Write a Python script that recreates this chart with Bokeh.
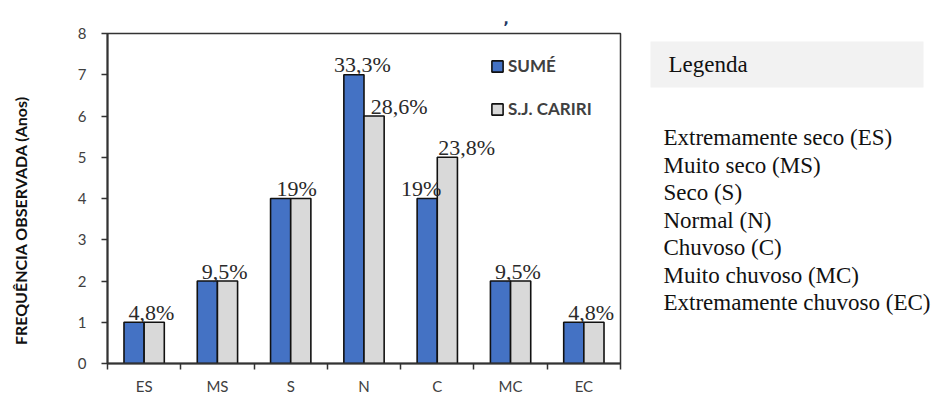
import math
import numpy as np
from bokeh.plotting import figure
from bokeh.layouts import row
from bokeh.models import (ColumnDataSource, Range1d, FixedTicker, Legend, LegendItem)
from bokeh.core.properties import value
from bokeh.embed import file_html
from bokeh.resources import INLINE

# ---- data ----
categories = ["ES", "MS", "S", "N", "C", "MC", "EC"]
sume = [1, 2, 4, 7, 4, 2, 1]
sj_cariri = [1, 2, 4, 6, 5, 2, 1]
series_names = ["SUMÉ", "S.J. CARIRI"]

label_texts = ["4,8%", "9,5%", "19%", "33,3%", "28,6%", "19%", "23,8%", "9,5%", "4,8%"]
label_cat = ["ES", "MS", "S", "N", "N", "C", "C", "MC", "EC"]
label_val = [1, 2, 4, 7, 6, 4, 5, 2, 1]
label_shift = [0.1, 0.1, 0.08, -0.02, 0.48, -0.22, 0.40, 0.1, 0.1]

legend_title = "Legenda"
legend_lines = ["Extremamente seco (ES)", "Muito seco (MS)", "Seco (S)", "Normal (N)",
                "Chuvoso (C)", "Muito chuvoso (MC)", "Extremamente chuvoso (EC)"]

y_ticks = [0, 1, 2, 3, 4, 5, 6, 7, 8]
y_title = "FREQUÊNCIA OBSERVADA (Anos)"

H = 397
FRAME_TOP, FRAME_BOTTOM = 33, 363   # canvas pixels shared by all panels in the row

# ---- left panel: rotated y-axis title ----
t = figure(width=35, height=H, output_backend="svg", toolbar_location=None,
           x_range=Range1d(0, 35), y_range=Range1d(H - FRAME_BOTTOM, H - FRAME_TOP),
           x_axis_location=None, y_axis_location=None,
           min_border_left=0, min_border_right=0,
           min_border_top=FRAME_TOP, min_border_bottom=H - FRAME_BOTTOM)
t.grid.visible = False
t.outline_line_color = None
t.text(x=[20], y=[H - 220], text=[y_title], angle=math.pi / 2,
       text_align="center", text_baseline="middle",
       text_font=value("Lato"), text_font_style="bold", text_font_size="16px",
       text_color="#111111")

# ---- main chart ----
BLUE = "#4472C4"
GREY = "#D9D9D9"
bar_w = 0.275
label_pad = 0.24  # gap between bar top and label baseline, in y units

centers = np.arange(len(categories)) + 0.5
src = ColumnDataSource(dict(
    xb=centers - bar_w / 2, xg=centers + bar_w / 2, sume=sume, sj=sj_cariri))

p = figure(width=605, height=H, output_backend="svg", toolbar_location=None,
           x_range=Range1d(0, len(categories)), y_range=Range1d(0, 8),
           min_border_left=72, min_border_right=20,
           min_border_top=FRAME_TOP, min_border_bottom=H - FRAME_BOTTOM)

r1 = p.vbar(x="xb", top="sume", width=bar_w, source=src, fill_color=BLUE,
            line_color="#111111", line_width=1.6)
r2 = p.vbar(x="xg", top="sj", width=bar_w, source=src, fill_color=GREY,
            line_color="#111111", line_width=1.6)

cat_index = {c: i for i, c in enumerate(categories)}
lsrc = ColumnDataSource(dict(
    x=[cat_index[c] + 0.5 + s for c, s in zip(label_cat, label_shift)],
    y=[v + label_pad for v in label_val], t=label_texts))
p.text(x="x", y="y", text="t", source=lsrc, text_align="center", text_baseline="alphabetic",
       text_font=value("Liberation Serif"), text_font_size="22px",
       text_color="#2a2a2a")

p.xgrid.visible = False
p.ygrid.visible = False
p.outline_line_color = "#333333"
p.outline_line_width = 1.5

# small mark above the chart (remnant of a cut-off title)
p.title.text = ","
p.title.align = "left"
p.title.offset = 396
p.title.vertical_align = "top"
p.title.standoff = 15
p.title.text_font = "DejaVu Sans"
p.title.text_font_style = "bold"
p.title.text_font_size = "14px"
p.title.text_color = "#1f3864"

xa = p.xaxis[0]
xa.ticker = FixedTicker(ticks=list(centers), minor_ticks=list(range(len(categories) + 1)))
xa.major_label_overrides = {float(c): cat for c, cat in zip(centers, categories)}
xa.major_tick_line_color = None
xa.minor_tick_in = 0
xa.minor_tick_out = 6
xa.minor_tick_line_color = "#333333"
xa.minor_tick_line_width = 1.5
xa.axis_line_color = "#333333"
xa.axis_line_width = 2
xa.major_label_text_font = "Lato"
xa.major_label_text_font_size = "15px"
xa.major_label_text_color = "#404040"
xa.major_label_standoff = 7

ya = p.yaxis[0]
ya.ticker = FixedTicker(ticks=y_ticks)
ya.minor_tick_line_color = None
ya.major_tick_in = 0
ya.major_tick_out = 6
ya.major_tick_line_color = "#333333"
ya.major_tick_line_width = 1.5
ya.axis_line_color = "#333333"
ya.axis_line_width = 2
ya.major_label_text_font = "Lato"
ya.major_label_text_font_size = "15px"
ya.major_label_text_color = "#404040"
ya.major_label_standoff = 15

legend = Legend(items=[LegendItem(label=series_names[0], renderers=[r1]),
                       LegendItem(label=series_names[1], renderers=[r2])],
                location=(383, 244), orientation="vertical")
legend.spacing = 22
legend.glyph_width = 14
legend.glyph_height = 14
legend.label_height = 20
legend.padding = 0
legend.margin = 0
legend.border_line_color = None
legend.background_fill_alpha = 0
legend.label_text_font = "Lato"
legend.label_text_font_style = "bold"
legend.label_text_font_size = "17px"
legend.label_text_color = "#404040"
legend.label_standoff = 4
p.add_layout(legend, "center")

# ---- right text panel (data units = canvas pixels) ----
q = figure(width=305, height=H, output_backend="svg", toolbar_location=None,
           x_range=Range1d(0, 305), y_range=Range1d(FRAME_BOTTOM, FRAME_TOP),
           x_axis_location=None, y_axis_location=None,
           min_border_left=0, min_border_right=0,
           min_border_top=FRAME_TOP, min_border_bottom=H - FRAME_BOTTOM)
q.grid.visible = False
q.outline_line_color = None

q.quad(left=[10], right=[283], top=[41], bottom=[87], fill_color="#F2F2F2", line_color=None)
q.text(x=[28], y=[64], text=[legend_title], text_baseline="middle",
       text_font=value("Liberation Serif"), text_font_size="23px", text_color="#111111")

ly = [137 + i * 27.5 for i in range(len(legend_lines))]
q.text(x=[23] * len(legend_lines), y=ly, text=legend_lines, text_baseline="middle",
       text_font=value("Liberation Serif"), text_font_size="23px", text_color="#111111")

layout = row(t, p, q)
open("out.html", "w").write(file_html(layout, INLINE))
